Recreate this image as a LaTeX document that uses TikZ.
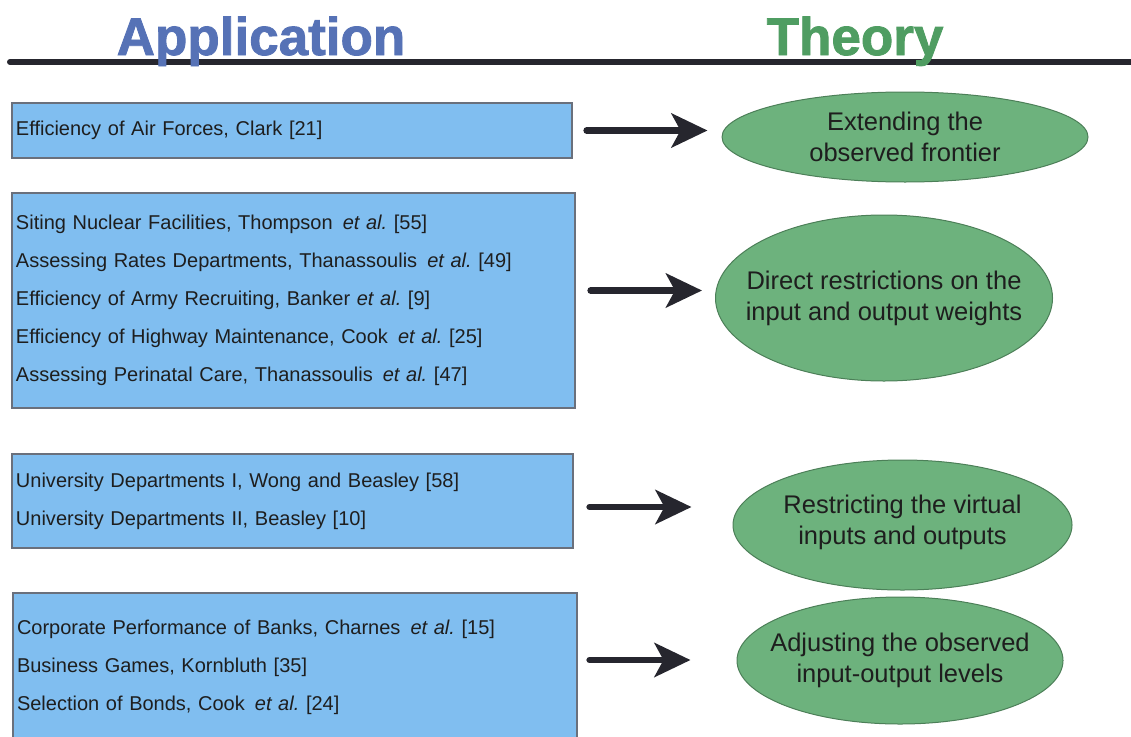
\documentclass[tikz,border=0pt]{standalone}
\usepackage{fontspec}
\setmainfont{Liberation Sans}[BoldFeatures={FakeBold=1.6}]
\usetikzlibrary{arrows.meta,shapes.geometric}
\definecolor{boxfill}{HTML}{80BEF0}
\definecolor{boxline}{HTML}{6A707C}
\definecolor{ellfill}{HTML}{6DB27D}
\definecolor{ellline}{HTML}{4C7F58}
\definecolor{appblue}{HTML}{5672B6}
\definecolor{theogreen}{HTML}{4F9D62}
\definecolor{ink}{HTML}{26262E}
\definecolor{txt}{HTML}{1E1E1E}
\newcommand{\etal}{\textit{et al.}}
\frenchspacing
\begin{document}
\begin{tikzpicture}[x=1pt,y=-1pt,
  appbox/.style={draw=boxline, line width=1.2pt, fill=boxfill, rectangle,
    inner xsep=4pt, inner ysep=0pt, align=left, text=txt,
    font=\fontsize{20}{38}\selectfont},
  ell/.style={draw=ellline, line width=1pt, fill=ellfill, ellipse, inner sep=0pt},
  elltext/.style={align=center, text=txt, font=\fontsize{25.5}{31}\selectfont},
  arr/.style={draw=ink, line width=6.5pt, line cap=round,
    -{Stealth[length=36pt,width=34pt,inset=9pt]}},
  headline/.style={font=\fontsize{53}{53}\bfseries\selectfont, anchor=base}
]
\clip (0,0) rectangle (1131,736);

% header rule and the two column titles
\draw[ink, line width=6pt, line cap=round] (10,62) coordinate (ruleL) -- (1140,62) coordinate (ruleR);
\node[headline, text=appblue] (tapp) at (261,55) {Application};
\node[headline, text=theogreen] (ttheo) at (855,55) {Theory};

% application boxes
\node[appbox, text width=552pt, minimum width=560pt, minimum height=55pt] (b1) at (292,130.5)
  {Efficiency of Air Forces, Clark [21]};
\node[appbox, text width=555pt, minimum width=563pt, minimum height=215pt] (b2) at (293.5,300.5)
  {Siting Nuclear Facilities, Thompson\enspace\etal{} [55]\\
   Assessing Rates Departments, Thanassoulis\enspace\etal{} [49]\\
   Efficiency of Army Recruiting, Banker \etal{} [9]\\
   Efficiency of Highway Maintenance, Cook\enspace\etal{} [25]\\
   Assessing Perinatal Care, Thanassoulis\enspace\etal{} [47]};
\node[appbox, text width=553pt, minimum width=561pt, minimum height=94pt] (b3) at (292.5,501)
  {University Departments I, Wong and Beasley [58]\\
   University Departments II, Beasley [10]};
\node[appbox, text width=556pt, minimum width=564pt, minimum height=148pt] (b4) at (295,667)
  {Corporate Performance of Banks, Charnes\enspace\etal{} [15]\\
   Business Games, Kornbluth [35]\\
   Selection of Bonds, Cook\enspace\etal{} [24]};

% theory ellipses
\node[ell, minimum width=366pt, minimum height=90pt] (e1) at (905,137) {};
\node[elltext] at (e1) {Extending the\\observed frontier};
\node[ell, minimum width=337pt, minimum height=166pt] (e2) at (884,298) {};
\node[elltext] at (e2) {Direct restrictions on the\\input and output weights};
\node[ell, minimum width=339pt, minimum height=130pt] (e3) at (902.5,525) {};
\node[elltext] at ([yshift=3pt]e3.center) {Restricting the virtual\\inputs and outputs};
\node[ell, minimum width=326pt, minimum height=127pt] (e4) at (900,660.5) {};
\node[elltext] at (e4) {Adjusting the observed\\input-output levels};

% connectors
\draw[arr] ([xshift=14pt]b1.east) -- ([xshift=-14pt]b1.east -| e1.west);
\draw[arr] ([xshift=15pt,yshift=10pt]b2.east) -- ([xshift=-13pt,yshift=10pt]b2.east -| e2.west);
\draw[arr] ([xshift=16pt,yshift=-6pt]b3.east) -- ([xshift=-41pt,yshift=-6pt]b3.east -| e3.west);
\draw[arr] ([xshift=12pt,yshift=7pt]b4.east) -- ([xshift=-46pt,yshift=7pt]b4.east -| e4.west);
\end{tikzpicture}
\end{document}
